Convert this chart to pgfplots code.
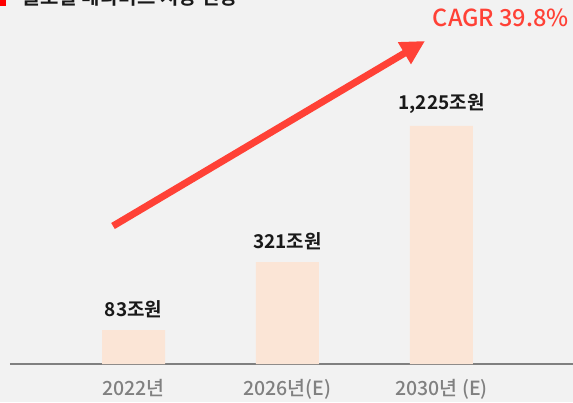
\documentclass[border=0pt]{standalone}
\usepackage{fontspec}
\setmainfont{Noto Sans CJK KR}[BoldFont={Noto Sans CJK KR Bold}]
\newfontfamily\medium{Noto Sans CJK KR Medium}
\usepackage{pgfplots}
\pgfplotsset{compat=1.18}
\usetikzlibrary{arrows.meta}
\definecolor{bgc}{HTML}{F2F2F2}
\definecolor{barc}{HTML}{FBE5D6}
\definecolor{axc}{HTML}{808080}
\definecolor{redc}{HTML}{FF4136}
\begin{document}
\begin{tikzpicture}
\useasboundingbox (0,0) rectangle (573pt,402pt);
\clip (0,0) rectangle (573pt,402pt);
\fill[bgc] (0,0) rectangle (573pt,402pt);
% title, cut off at the top edge
\fill[red] (0,396pt) rectangle (6pt,402pt);
\node[anchor=base west, inner sep=0pt, font=\bfseries\fontsize{20}{20}\selectfont, text=black!90]
  at (22pt,397.5pt) {글로벌 메타버스 시장 전망};
\begin{axis}[at={(10pt,38pt)}, anchor=south west,
scale only axis, width=563pt, height=324pt,
xmin=-0.802, xmax=2.854, ymin=0, ymax=324,
axis y line=none, axis x line*=bottom,
x axis line style={draw=axc, line width=2.5pt},
xtick={0,1,2}, major tick length=0pt,
xticklabels={2022년, 2026년(E), \raisebox{4pt}{2030년 (E)}},
xticklabel style={font=\medium\fontsize{19.5}{19.5}\selectfont, text=axc, yshift=-12pt},
ytick=\empty, clip=false]
\addplot[ybar, bar width=63pt, fill=barc, draw=none,
  nodes near coords, point meta=explicit symbolic,
  nodes near coords style={font=\bfseries\fontsize{19}{19}\selectfont, text=black!90, inner sep=0pt, anchor=south, yshift=12pt}]
  table[meta=label] {
x y label
0 34 83조원
1 102 321조원
2 238 1,225조원
};
\addplot[redc, line width=7pt, -{Triangle[length=24pt,width=24pt]}]
  coordinates {(-0.133,138) (1.893,323)};
\end{axis}
\node[anchor=east, inner sep=0pt, font=\medium\fontsize{23.5}{23.5}\selectfont, text=redc] at (569pt,384pt) {CAGR 39.8\%};
\end{tikzpicture}
\end{document}
